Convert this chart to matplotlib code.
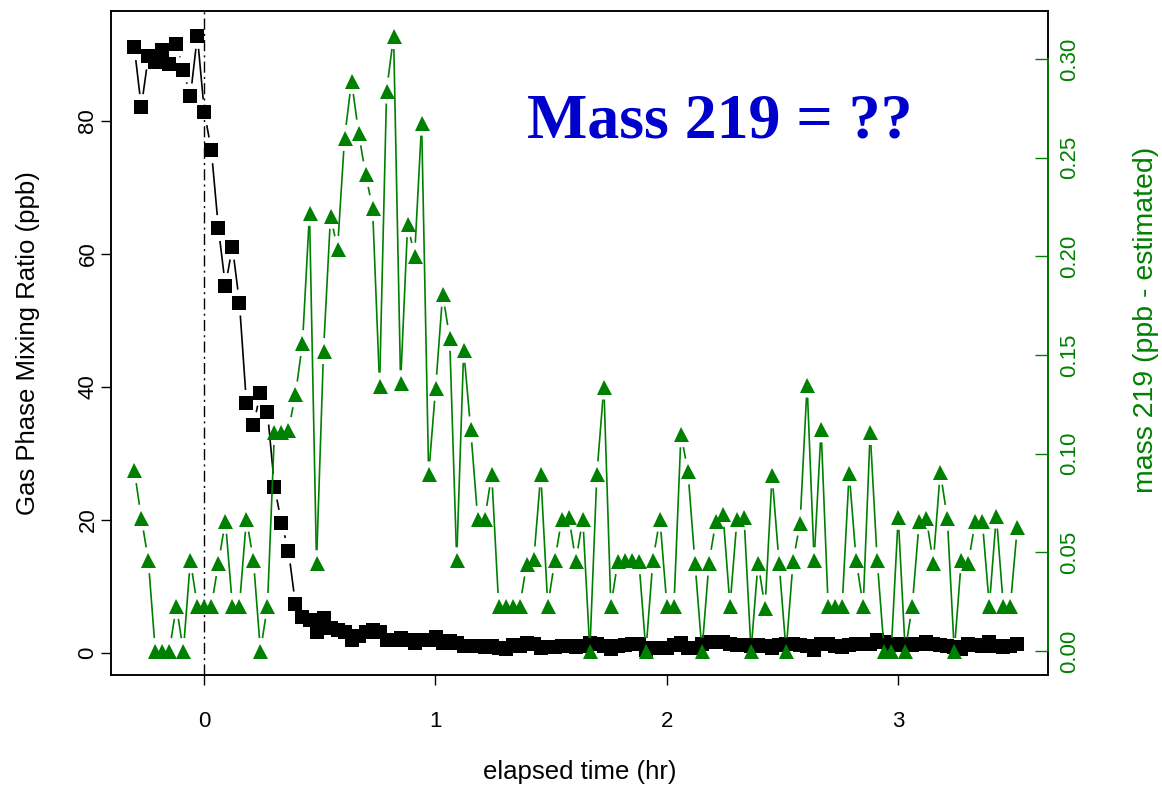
import numpy as np
import matplotlib
matplotlib.use("Agg")
import matplotlib.pyplot as plt
from matplotlib.collections import LineCollection
from matplotlib.transforms import blended_transform_factory

plt.rcParams['font.family'] = ['Liberation Sans', 'DejaVu Sans']

# ---- data -------------------------------------------------------------
t_start = -0.3013      # first sample time (hr)
t_step = 0.0303        # sampling interval (hr)

gas_ppb = [
    91.1, 82.1, 89.7, 88.8, 90.7, 88.6, 91.6, 87.7, 83.7, 92.8,
    81.3, 75.6, 63.9, 55.2, 61.1, 52.7, 37.6, 34.3, 39.1, 36.3,
    25.0, 19.6, 15.4, 7.3, 5.4, 4.9, 3.2, 5.2, 3.7, 3.5,
    3.2, 2.0, 2.5, 3.2, 3.5, 3.2, 2.0, 2.0, 2.2, 2.0,
    1.5, 2.0, 2.0, 2.4, 1.5, 1.8, 1.5, 1.0, 1.1, 1.1,
    0.9, 1.0, 0.7, 0.6, 1.2, 1.0, 1.5, 1.4, 0.8, 0.9,
    0.9, 1.0, 1.1, 0.9, 1.0, 1.5, 1.4, 1.0, 0.6, 1.1,
    1.2, 1.4, 1.3, 0.5, 0.7, 0.7, 0.8, 1.2, 1.5, 0.8,
    0.8, 1.3, 1.7, 1.6, 1.6, 1.4, 1.2, 1.2, 1.0, 1.2,
    1.0, 0.8, 1.2, 1.4, 1.3, 1.2, 1.0, 0.4, 1.3, 1.4,
    1.0, 0.9, 1.2, 1.3, 1.3, 1.4, 1.9, 1.6, 1.3, 1.2,
    1.4, 1.2, 1.3, 1.6, 1.4, 1.2, 1.0, 0.9, 0.6, 1.4,
    1.2, 1.0, 1.7, 1.0, 0.9, 1.1, 1.3,
]

mass219 = [
    0.0916, 0.0676, 0.046, 0.0, 0.0, 0.0, 0.0228, 0.0, 0.046, 0.0228,
    0.0228, 0.0228, 0.0445, 0.066, 0.0228, 0.0228, 0.067, 0.046, 0.0, 0.0228,
    0.111, 0.111, 0.112, 0.130, 0.156, 0.222, 0.0445, 0.152, 0.2205, 0.2037,
    0.260, 0.2888, 0.2627, 0.2416, 0.2245, 0.1345, 0.284, 0.3116, 0.1357, 0.2163,
    0.2003, 0.2677, 0.0895, 0.1334, 0.181, 0.1587, 0.046, 0.1526, 0.1123, 0.067,
    0.067, 0.0895, 0.0228, 0.0228, 0.0228, 0.0228, 0.0443, 0.0464, 0.0895, 0.0228,
    0.046, 0.067, 0.068, 0.0455, 0.067, 0.0, 0.0895, 0.134, 0.0228, 0.0455,
    0.046, 0.046, 0.0455, 0.0, 0.046, 0.067, 0.0228, 0.0228, 0.1098, 0.091,
    0.0448, 0.0, 0.0448, 0.066, 0.0696, 0.0228, 0.067, 0.068, 0.0, 0.0448,
    0.022, 0.089, 0.0447, 0.0, 0.0455, 0.065, 0.135, 0.046, 0.1123, 0.0228,
    0.0228, 0.0228, 0.0904, 0.046, 0.0228, 0.111, 0.046, 0.0, 0.0, 0.068,
    0.0, 0.0228, 0.0658, 0.0675, 0.0448, 0.0908, 0.0675, 0.0, 0.046, 0.0447,
    0.0658, 0.066, 0.0228, 0.0686, 0.0228, 0.0228, 0.063,
]

x_ticks = [0, 1, 2, 3]
left_ticks = [0, 20, 40, 60, 80]
right_ticks = [0.00, 0.05, 0.10, 0.15, 0.20, 0.25, 0.30]
right_ticklabels = ["0.00", "0.05", "0.10", "0.15", "0.20", "0.25", "0.30"]

time_hr = t_start + t_step * np.arange(len(gas_ppb))

GREEN = "#008000"
BLUE = "#0000CD"

# ---- figure -------------------------------------------------------------
W, H = 1162, 786
fig = plt.figure(figsize=(W / 100, H / 100), dpi=100)
L, R, T, B = 111, 1048, 11, 675
ax = fig.add_axes([L / W, 1 - B / H, (R - L) / W, (B - T) / H])
ax2 = ax.twinx()
ax2.set_position(ax.get_position())

ax.set_xlim(-0.402, 3.649)
ax.set_ylim(-3.31, 96.54)
ax2.set_ylim(-0.01216, 0.3243)


def gapped_segments(axis, x, y, gap_px):
    pts = axis.transData.transform(np.column_stack([x, y]))
    inv = axis.transData.inverted()
    segs = []
    for p0, p1 in zip(pts[:-1], pts[1:]):
        d = p1 - p0
        length = np.hypot(d[0], d[1])
        if length <= 2 * gap_px:
            continue
        u = d / length
        segs.append(inv.transform(np.array([p0 + u * gap_px, p1 - u * gap_px])))
    return segs


gap = 13 * fig.dpi / 100

# dash-dot line at t = 0
ax.axvline(0, color="black", lw=1.0, ls=(0, (8, 3, 1.5, 3)), zorder=1)

# gas phase (black squares)
ax.add_collection(LineCollection(gapped_segments(ax, time_hr, gas_ppb, gap),
                                 colors="black", linewidths=1.2, zorder=2))
ax.plot(time_hr, gas_ppb, ls="none", marker="s", ms=9.8, color="black",
        markeredgewidth=0, zorder=3)

# mass 219 (green triangles)
ax2.add_collection(LineCollection(gapped_segments(ax2, time_hr, mass219, gap),
                                  colors=GREEN, linewidths=1.2, zorder=2))
ax2.plot(time_hr, mass219, ls="none", marker="^", ms=10.8, color=GREEN,
         markeredgewidth=0, zorder=3)

# ---- axes styling -----------------------------------------------------
for sp in ax.spines.values():
    sp.set_linewidth(1.1)
for sp in ax2.spines.values():
    sp.set_linewidth(1.1)

ax.set_xticks(x_ticks)
ax.set_yticks(left_ticks)
ax.tick_params(axis="x", direction="out", length=7, width=1.0, labelsize=16, pad=19)
ax.tick_params(axis="y", direction="out", length=7, width=1.0, labelsize=16, pad=2,
               labelrotation=90)
for lab in ax.get_yticklabels():
    lab.set_va("center")

ax2.set_yticks(right_ticks)
ax2.set_yticklabels(right_ticklabels)
ax2.tick_params(axis="y", direction="in", length=9.4, width=1.0, color=GREEN,
                labelcolor=GREEN, labelsize=16, pad=8, labelrotation=90)
for lab in ax2.get_yticklabels():
    lab.set_va("center")

# green axis line along the tick range
tr = blended_transform_factory(ax2.transAxes, ax2.transData)
ax2.plot([1, 1], [right_ticks[0], right_ticks[-1]], transform=tr, color=GREEN,
         lw=1.3, clip_on=False, zorder=5)

# ---- labels -----------------------------------------------------------
fig.text(580 / W, 1 - 772 / H, "elapsed time (hr)", ha="center", va="center",
         fontsize=18.5)
fig.text(28 / W, 1 - 343 / H, "Gas Phase Mixing Ratio (ppb)", ha="center",
         va="center", rotation=90, fontsize=18.5)
fig.text(1146 / W, 1 - 320 / H, "mass 219 (ppb - estimated)", ha="center",
         va="center", rotation=90, fontsize=20.5, color=GREEN)

fig.text(527 / W, 1 - 137 / H, "Mass 219 = ??", ha="left", va="baseline",
         fontsize=46, fontweight="bold", family="Liberation Serif", color=BLUE)

fig.savefig("out.png", dpi=100)
